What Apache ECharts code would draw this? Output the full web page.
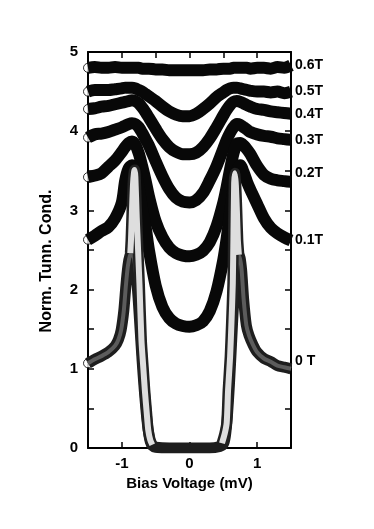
<!DOCTYPE html>
<html>
<head>
<meta charset="utf-8">
<script src="https://cdn.jsdelivr.net/npm/echarts@6.0.0/dist/echarts.min.js"></script>
<style>
  html, body { margin: 0; padding: 0; background: #fff; }
  #chart { width: 374px; height: 529px; }
</style>
</head>
<body>
<div id="chart"></div>
<script>
  // Bias voltage grid (mV) shared by the field curves 0.1T .. 0.6T.
  const biasV = [-1.5, -1.4, -1.3, -1.2, -1.1, -1.0, -0.95, -0.9, -0.85, -0.8, -0.75, -0.7, -0.65, -0.6,
    -0.5, -0.4, -0.3, -0.2, -0.1, 0, 0.1, 0.2, 0.3, 0.4, 0.5,
    0.55, 0.6, 0.65, 0.7, 0.75, 0.8, 0.85, 0.9, 1.0, 1.1, 1.2, 1.3, 1.4, 1.5];

  // Normalized tunneling conductance (offset curves).
  const g06 = [4.80, 4.81, 4.80, 4.80, 4.81, 4.80, 4.80, 4.80, 4.80, 4.80, 4.80, 4.79, 4.79, 4.79,
    4.78, 4.78, 4.77, 4.77, 4.77, 4.77, 4.77, 4.77, 4.78, 4.78, 4.79,
    4.79, 4.79, 4.80, 4.80, 4.80, 4.80, 4.80, 4.79, 4.80, 4.80, 4.79, 4.81, 4.80, 4.83];
  const g05 = [4.50, 4.52, 4.52, 4.52, 4.53, 4.54, 4.55, 4.55, 4.55, 4.54, 4.52, 4.50, 4.47, 4.44,
    4.38, 4.31, 4.25, 4.21, 4.19, 4.19, 4.22, 4.28, 4.35, 4.43, 4.49,
    4.52, 4.54, 4.55, 4.55, 4.54, 4.53, 4.52, 4.51, 4.50, 4.50, 4.49, 4.50, 4.48, 4.50];
  const g04 = [4.28, 4.29, 4.31, 4.32, 4.34, 4.36, 4.37, 4.38, 4.39, 4.38, 4.35, 4.30, 4.24, 4.17,
    4.03, 3.90, 3.80, 3.74, 3.71, 3.71, 3.73, 3.80, 3.91, 4.05, 4.20,
    4.27, 4.33, 4.37, 4.38, 4.37, 4.35, 4.33, 4.31, 4.28, 4.27, 4.25, 4.24, 4.23, 4.22];
  const g03 = [3.92, 3.96, 3.97, 3.99, 4.02, 4.05, 4.07, 4.09, 4.10, 4.09, 4.05, 3.98, 3.90, 3.82,
    3.62, 3.43, 3.27, 3.16, 3.11, 3.10, 3.13, 3.22, 3.38, 3.56, 3.78,
    3.89, 3.98, 4.05, 4.09, 4.08, 4.05, 4.02, 3.99, 3.96, 3.94, 3.93, 3.91, 3.90, 3.89];
  const g02 = [3.42, 3.44, 3.47, 3.55, 3.63, 3.74, 3.80, 3.85, 3.87, 3.83, 3.72, 3.56, 3.38, 3.18,
    2.86, 2.66, 2.53, 2.46, 2.43, 2.42, 2.44, 2.49, 2.60, 2.80, 3.10,
    3.30, 3.52, 3.72, 3.84, 3.85, 3.82, 3.77, 3.71, 3.56, 3.45, 3.40, 3.38, 3.37, 3.36];
  const g01 = [2.63, 2.68, 2.74, 2.79, 2.90, 3.10, 3.38, 3.53, 3.57, 3.50, 3.28, 3.02, 2.80, 2.50,
    2.05, 1.78, 1.64, 1.57, 1.54, 1.53, 1.55, 1.60, 1.73, 1.98, 2.38,
    2.65, 2.98, 3.28, 3.50, 3.57, 3.48, 3.36, 3.26, 3.08, 2.90, 2.78, 2.71, 2.66, 2.62];

  // Zero-field curve (grey circles).
  const zeroX = [-1.5, -1.4, -1.3, -1.2, -1.1, -1.05, -1.01, -0.97, -0.94, -0.91, -0.88, -0.85, -0.82, -0.79, -0.76,
    -0.73, -0.7, -0.67, -0.64, -0.61, -0.58, -0.55, -0.5, -0.3, 0, 0.3, 0.45, 0.5, 0.53, 0.56,
    0.59, 0.62, 0.65, 0.68, 0.71, 0.74, 0.77, 0.8, 0.84, 0.88, 0.94, 1.0, 1.1, 1.2, 1.3, 1.4, 1.5];
  const zeroY = [1.07, 1.12, 1.16, 1.21, 1.29, 1.37, 1.49, 1.74, 2.05, 2.30, 2.43, 2.46, 2.40, 2.20, 1.90,
    1.50, 1.10, 0.75, 0.45, 0.22, 0.08, 0.03, 0.01, 0.00, 0.00, 0.00, 0.02, 0.05, 0.15, 0.40,
    0.80, 1.30, 1.80, 2.15, 2.38, 2.42, 2.25, 1.88, 1.55, 1.42, 1.30, 1.21, 1.13, 1.09, 1.04, 1.02, 1.00];

  // Zero-field curve (open white circles), tall coherence peaks.
  const peakX = [-0.875, -0.865, -0.85, -0.835, -0.82, -0.81, -0.8, -0.78, -0.76, -0.74, -0.71, -0.68, -0.66, -0.63,
    -0.61, -0.58, -0.55, 0, 0.48, 0.52, 0.55, 0.57, 0.6, 0.62, 0.64, 0.65, 0.66, 0.67, 0.685, 0.70, 0.715, 0.73];
  const peakY = [2.46, 2.62, 3.00, 3.33, 3.48, 3.51, 3.42, 2.92, 2.50, 2.08, 1.36, 0.98, 0.73, 0.42,
    0.23, 0.10, 0.04, '-', 0.06, 0.18, 0.32, 0.73, 1.15, 1.58, 2.08, 2.71, 3.35, 3.47, 3.32, 3.00, 2.62, 2.44];

  const fieldNames = ['0.6T', '0.5T', '0.4T', '0.3T', '0.2T', '0.1T'];
  const fieldCurves = [g06, g05, g04, g03, g02, g01];

  const font = 'Liberation Sans, Arial, Helvetica, sans-serif';
  const pairs = (xs, ys) => xs.map((x, i) => [x, ys[i]]);
  const labelShift = { '0.2T': -9 };

  let series = [];

  // First data point of each curve is drawn as an open circle on the left frame.
  series.push({
    type: 'scatter',
    data: fieldCurves.map(c => [biasV[0], c[0]]).concat([[zeroX[0], zeroY[0]]]),
    symbolSize: 9,
    itemStyle: { color: '#fff', borderColor: '#000', borderWidth: 1 },
    clip: false,
    silent: true,
    z: 1
  });

  fieldCurves.forEach((c, i) => {
    const name = fieldNames[i];
    series.push({
      type: 'line',
      name: name,
      data: pairs(biasV, c),
      showSymbol: false,
      smooth: 0.3,
      silent: true,
      lineStyle: { color: '#080808', width: 12, join: 'round' },
      endLabel: {
        show: true, formatter: name, distance: 4, offset: [0, labelShift[name] || 0],
        color: '#000', fontFamily: font, fontWeight: 'bold', fontSize: 14
      },
      z: 2
    });
  });

  // Grey 0 T curve: dark rim + grey core (core left out along the flat gap bottom).
  series.push({
    type: 'line', name: '0 T', data: pairs(zeroX, zeroY), showSymbol: false, smooth: 0.2, silent: true,
    lineStyle: { color: '#1e1e1e', width: 11, join: 'round' },
    endLabel: {
      show: true, formatter: '0 T', distance: 4, offset: [0, -8],
      color: '#000', fontFamily: font, fontWeight: 'bold', fontSize: 14
    },
    z: 3
  });
  series.push({
    type: 'line', data: pairs(zeroX, zeroY).map(p => (p[1] < 0.1 ? [p[0], '-'] : p)),
    showSymbol: false, smooth: 0.2, silent: true,
    lineStyle: { color: '#5c5c5c', width: 4, join: 'round' }, z: 3
  });

  // White open-circle curve on top.
  series.push({
    type: 'line', data: pairs(peakX, peakY), showSymbol: false, smooth: 0.2, silent: true,
    lineStyle: { color: '#222', width: 11, join: 'round' }, z: 4
  });
  series.push({
    type: 'line', data: pairs(peakX, peakY), showSymbol: false, smooth: 0.2, silent: true,
    lineStyle: { color: '#dedede', width: 6, join: 'round' }, z: 4
  });

  const intOnly = v => (Math.abs(v - Math.round(v)) < 1e-9 ? String(Math.round(v)) : '');
  const frameLine = { show: true, onZero: false, lineStyle: { color: '#000', width: 2 } };
  const tick = { show: true, inside: true, length: 6, lineStyle: { color: '#000', width: 1.5 } };
  const tickLabel = { color: '#000', fontFamily: font, fontWeight: 'bold', fontSize: 15 };
  const nameStyle = { color: '#000', fontFamily: font, fontWeight: 'bold', fontSize: 15 };

  const option = {
    animation: false,
    backgroundColor: '#fff',
    grid: { left: 88, right: 83, top: 52, bottom: 81 },
    xAxis: [
      {
        type: 'value', position: 'bottom', min: -1.5, max: 1.5, interval: 0.5,
        axisLine: frameLine, axisTick: tick, splitLine: { show: false },
        axisLabel: Object.assign({ formatter: intOnly, margin: 8 }, tickLabel),
        name: 'Bias Voltage (mV)', nameLocation: 'middle', nameGap: 24, nameTextStyle: nameStyle
      },
      {
        type: 'value', position: 'top', min: -1.5, max: 1.5, interval: 0.5,
        axisLine: frameLine, axisTick: tick, splitLine: { show: false }, axisLabel: { show: false }
      }
    ],
    yAxis: [
      {
        type: 'value', position: 'left', min: 0, max: 5, interval: 0.5,
        axisLine: frameLine, axisTick: tick, splitLine: { show: false },
        axisLabel: Object.assign({ formatter: intOnly, margin: 10 }, tickLabel),
        name: 'Norm. Tunn. Cond.', nameLocation: 'middle', nameGap: 33,
        nameTextStyle: Object.assign({}, nameStyle, { fontSize: 16, padding: [0, 22, 0, 0] })
      },
      {
        type: 'value', position: 'right', min: 0, max: 5, interval: 0.5,
        axisLine: frameLine, axisTick: tick, splitLine: { show: false }, axisLabel: { show: false }
      }
    ],
    series: series
  };

  echarts.init(document.getElementById('chart')).setOption(option);
</script>
</body>
</html>
